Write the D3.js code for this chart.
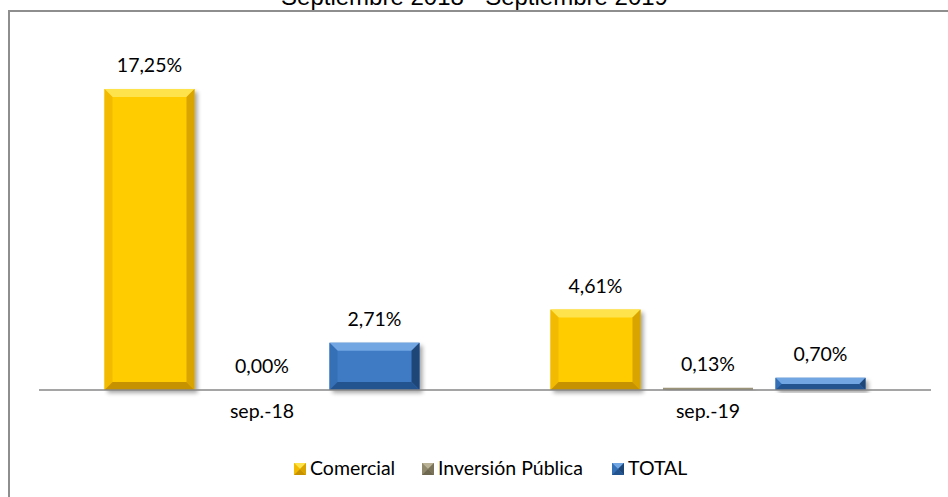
<!DOCTYPE html>
<html>
<head>
<meta charset="utf-8">
<script src="https://cdn.jsdelivr.net/npm/d3@7"></script>
<style>
  html, body { margin: 0; padding: 0; background: #ffffff; }
  svg { display: block; }
</style>
</head>
<body>
<svg id="chart" width="948" height="497"></svg>
<script>
// Variación por cartera, septiembre 2018 frente a septiembre 2019
const title = "Septiembre 2018 - Septiembre 2019";
const categories = ["sep.-18", "sep.-19"];
const seriesNames = ["Comercial", "Inversión Pública", "TOTAL"];
const comercial = [17.25, 4.61];
const inversionPublica = [0.00, 0.13];
const total = [2.71, 0.70];
const seriesValues = [comercial, inversionPublica, total];

// Bevel palettes: face, top highlight, sides, bottom
const palettes = [
  { face: "#FFCC00", top: "#FFE34D", left: "#F2BA00", right: "#D9A300", bottom: "#C79200" },
  { face: "#9C9478", top: "#B9B296", left: "#8F886C", right: "#7A7359", bottom: "#6E6850" },
  { face: "#3E7BC4", top: "#72A6E3", left: "#3570B6", right: "#1E4677", bottom: "#24548F" }
];

const fmt = v => v.toFixed(2).replace(".", ",") + "%";
const labelFont = "Lato, 'Noto Sans', sans-serif";
const labelSize = 19.5;

const svg = d3.select("#chart");

// Outer frame (runs past the right and bottom edges of the view)
svg.append("rect")
  .attr("x", 9).attr("y", 11)
  .attr("width", 1000).attr("height", 600)
  .attr("fill", "none")
  .attr("stroke", "#8E8E8E")
  .attr("stroke-width", 2);

// Title, partly above the visible area
svg.append("text")
  .attr("x", 474.5).attr("y", 5)
  .attr("text-anchor", "middle")
  .attr("font-family", "'Liberation Sans', Arial, sans-serif")
  .attr("font-size", 24)
  .attr("fill", "#000")
  .text(title);

const defs = svg.append("defs");
const shadow = defs.append("filter").attr("id", "shadow")
  .attr("x", "-20%").attr("y", "-20%").attr("width", "140%").attr("height", "140%");
shadow.append("feGaussianBlur").attr("in", "SourceAlpha").attr("stdDeviation", 2.2);
shadow.append("feOffset").attr("dx", 2.5).attr("dy", 2.5).attr("result", "b");
shadow.append("feComponentTransfer").append("feFuncA").attr("type", "linear").attr("slope", 0.35);

const axisLeft = 39, axisRight = 931, baseY = 390;

const x0 = d3.scaleBand().domain(categories).range([axisLeft, axisRight]).padding(0);
const x1 = d3.scaleBand().domain(seriesNames).range([0, x0.bandwidth()])
  .paddingInner(0.2).paddingOuter(0.582);
const y = d3.scaleLinear().domain([0, 20]).range([baseY, 41]);

const bars = [];
categories.forEach((c, ci) => {
  seriesNames.forEach((s, si) => {
    bars.push({ cat: c, series: s, si, value: seriesValues[si][ci] });
  });
});

function bevelParts(x, yTop, w, h) {
  const b = Math.min(8, h / 2, w / 2);
  const x2 = x + w, y2 = yTop + h;
  return {
    top: [[x, yTop], [x2, yTop], [x2 - b, yTop + b], [x + b, yTop + b]],
    left: [[x, yTop], [x + b, yTop + b], [x + b, y2 - b], [x, y2]],
    right: [[x2, yTop], [x2, y2], [x2 - b, y2 - b], [x2 - b, yTop + b]],
    bottom: [[x, y2], [x + b, y2 - b], [x2 - b, y2 - b], [x2, y2]]
  };
}
const poly = pts => pts.map(p => p.join(",")).join(" ");

function drawBevel(g, x, yTop, w, h, pal, withShadow) {
  if (withShadow) {
    g.append("rect").attr("x", x).attr("y", yTop).attr("width", w).attr("height", h)
      .attr("fill", "#000").attr("filter", "url(#shadow)");
  }
  g.append("rect").attr("x", x).attr("y", yTop).attr("width", w).attr("height", h)
    .attr("fill", pal.face);
  if (h < 4) return;
  const p = bevelParts(x, yTop, w, h);
  g.append("polygon").attr("points", poly(p.top)).attr("fill", pal.top);
  g.append("polygon").attr("points", poly(p.left)).attr("fill", pal.left);
  g.append("polygon").attr("points", poly(p.right)).attr("fill", pal.right);
  g.append("polygon").attr("points", poly(p.bottom)).attr("fill", pal.bottom);
}

const barLayer = svg.append("g");
bars.forEach(d => {
  const bx = x0(d.cat) + x1(d.series);
  const yTop = y(d.value);
  const h = baseY - yTop;
  if (h > 0) drawBevel(barLayer, bx, yTop, x1.bandwidth(), h, palettes[d.si], true);
});

// Baseline axis
svg.append("line")
  .attr("x1", axisLeft).attr("x2", axisRight)
  .attr("y1", baseY).attr("y2", baseY)
  .attr("stroke", "#878787").attr("stroke-width", 1.5);

// Value labels
svg.append("g").selectAll("text").data(bars).join("text")
  .attr("x", d => x0(d.cat) + x1(d.series) + x1.bandwidth() / 2)
  .attr("y", d => y(d.value) - 17)
  .attr("text-anchor", "middle")
  .attr("font-family", labelFont)
  .attr("font-size", labelSize)
  .attr("fill", "#000")
  .text(d => fmt(d.value));

// Category labels
svg.append("g").selectAll("text").data(categories).join("text")
  .attr("x", d => x0(d) + x0.bandwidth() / 2)
  .attr("y", 418)
  .attr("text-anchor", "middle")
  .attr("font-family", labelFont)
  .attr("font-size", labelSize)
  .attr("fill", "#000")
  .text(d => d);

// Legend
const legendX = [294, 422, 612];
const legend = svg.append("g");
seriesNames.forEach((s, i) => {
  const g = legend.append("g");
  drawBevel(g, legendX[i], 463, 12, 12, palettes[i], false);
  g.append("text")
    .attr("x", legendX[i] + 16).attr("y", 475)
    .attr("font-family", labelFont)
    .attr("font-size", labelSize)
    .attr("fill", "#000")
    .text(s);
});
</script>
</body>
</html>
